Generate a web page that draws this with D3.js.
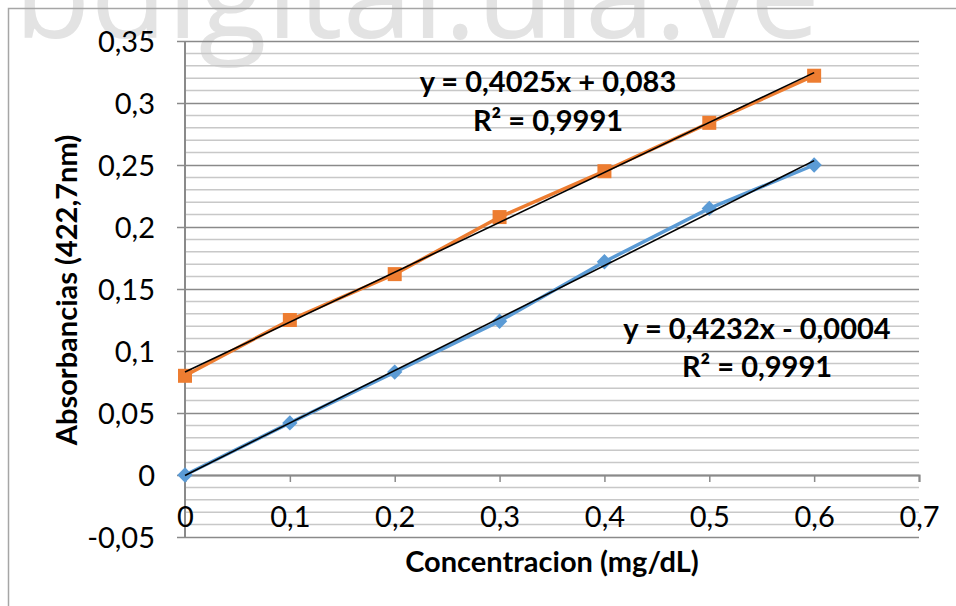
<!DOCTYPE html>
<html>
<head>
<meta charset="utf-8">
<script src="https://cdn.jsdelivr.net/npm/d3@7"></script>
<style>
  html, body { margin: 0; padding: 0; background: #ffffff; }
  svg { display: block; }
  text { font-family: Lato, "Open Sans", sans-serif; }
</style>
</head>
<body>
<svg id="chart" width="956" height="606"></svg>
<script>
// Calibration data: concentration (mg/dL) vs absorbance at 422.7 nm
const concentrations = [0, 0.1, 0.2, 0.3, 0.4, 0.5, 0.6];
const seriesBlue = [0, 0.042, 0.083, 0.124, 0.172, 0.215, 0.250];
const seriesOrange = [0.080, 0.125, 0.162, 0.208, 0.245, 0.284, 0.322];

// Linear fits (slope, intercept) shown on the chart
const fitBlue = { slope: 0.4232, intercept: -0.0004, eq: "y = 0,4232x - 0,0004", r2: "R² = 0,9991" };
const fitOrange = { slope: 0.4025, intercept: 0.083, eq: "y = 0,4025x + 0,083", r2: "R² = 0,9991" };

const xTicks = [0, 0.1, 0.2, 0.3, 0.4, 0.5, 0.6, 0.7];
const yTicks = [-0.05, 0, 0.05, 0.1, 0.15, 0.2, 0.25, 0.3, 0.35];
const yMinorStep = 0.01;

const fmt = v => String(+v.toFixed(2)).replace(".", ",");
const FS = "29px";

const svg = d3.select("#chart");

// Watermark
svg.append("text")
  .attr("x", 14).attr("y", 38)
  .attr("textLength", 806)
  .attr("lengthAdjust", "spacingAndGlyphs")
  .style("font-family", "'Open Sans', sans-serif")
  .style("font-size", "126px")
  .style("fill", "#e3e3e3")
  .text("bdigital.ula.ve");

// Outer chart border
svg.append("path")
  .attr("d", "M8.5,606 V8.5 H956")
  .attr("fill", "none")
  .attr("stroke", "#a6a6a6")
  .attr("stroke-width", 1.5);

const x = d3.scaleLinear().domain([0, 0.7]).range([185, 919]);
const y = d3.scaleLinear().domain([-0.05, 0.35]).range([537, 41]);

// Minor gridlines
const minor = d3.range(-0.05, 0.3501, yMinorStep).map(v => +v.toFixed(2))
  .filter(v => Math.abs(Math.round(v * 100) % 5) !== 0);
svg.append("g").selectAll("line").data(minor).join("line")
  .attr("x1", x(0)).attr("x2", x(0.7))
  .attr("y1", d => y(d)).attr("y2", d => y(d))
  .attr("stroke", "#c8c8c8").attr("stroke-width", 1.5);

// Major gridlines with y axis ticks
const yAxis = d3.axisLeft(y).tickValues(yTicks).tickFormat(fmt)
  .tickSize(-(x(0.7) - x(0))).tickPadding(30);
const gy = svg.append("g").attr("transform", `translate(${x(0)},0)`).call(yAxis);
gy.select(".domain").remove();
gy.selectAll(".tick line").attr("stroke", "#8a8a8a").attr("stroke-width", 1.5)
  .attr("x1", -8);
gy.selectAll(".tick text")
  .attr("dy", "0.36em")
  .style("font-size", FS).style("fill", "#000");

// Y axis line
svg.append("line")
  .attr("x1", x(0)).attr("x2", x(0))
  .attr("y1", y(0.35)).attr("y2", y(-0.05))
  .attr("stroke", "#8a8a8a").attr("stroke-width", 2);

// X axis at y = 0
const xAxis = d3.axisBottom(x).tickValues(xTicks).tickFormat(fmt).tickSize(7);
const gx = svg.append("g").attr("transform", `translate(0,${y(0)})`).call(xAxis);
gx.select(".domain").attr("stroke", "#8a8a8a").attr("stroke-width", 2);
gx.selectAll(".tick line").attr("stroke", "#8a8a8a").attr("stroke-width", 1.5);
gx.selectAll(".tick text")
  .attr("y", 52).attr("dy", null)
  .style("font-size", FS).style("fill", "#000");

// Series lines
const line = d3.line().x((d, i) => x(concentrations[i])).y(d => y(d));
svg.append("path").datum(seriesOrange).attr("d", line)
  .attr("fill", "none").attr("stroke", "#ED7D31").attr("stroke-width", 3.5);
svg.append("path").datum(seriesBlue).attr("d", line)
  .attr("fill", "none").attr("stroke", "#5B9BD5").attr("stroke-width", 3.5);

// Markers
svg.append("g").selectAll("rect").data(seriesOrange).join("rect")
  .attr("x", (d, i) => x(concentrations[i]) - 7)
  .attr("y", d => y(d) - 7)
  .attr("width", 14).attr("height", 14)
  .attr("fill", "#ED7D31");
const diamond = d3.symbol().type(d3.symbolDiamond2).size(150);
svg.append("g").selectAll("path").data(seriesBlue).join("path")
  .attr("transform", (d, i) => `translate(${x(concentrations[i])},${y(d)})`)
  .attr("d", diamond)
  .attr("fill", "#5B9BD5");

// Trend lines
[fitOrange, fitBlue].forEach(f => {
  svg.append("line")
    .attr("x1", x(0)).attr("y1", y(f.intercept))
    .attr("x2", x(0.6)).attr("y2", y(f.slope * 0.6 + f.intercept))
    .attr("stroke", "#000").attr("stroke-width", 1.6);
});

// Fit labels
function fitLabel(f, cx, cy, cy2) {
  const g = svg.append("g").style("font-size", FS).style("font-weight", "bold")
    .attr("text-anchor", "middle");
  g.append("text").attr("x", cx).attr("y", cy).text(f.eq);
  g.append("text").attr("x", cx).attr("y", cy2).text(f.r2);
}
fitLabel(fitOrange, 548, 92, 131);
fitLabel(fitBlue, 757, 339, 377);

// Axis titles
svg.append("text")
  .attr("transform", "translate(77,290) rotate(-90)")
  .attr("text-anchor", "middle")
  .style("font-size", FS).style("font-weight", "bold")
  .text("Absorbancias (422,7nm)");
svg.append("text")
  .attr("x", 552).attr("y", 572)
  .attr("text-anchor", "middle")
  .style("font-size", FS).style("font-weight", "bold")
  .text("Concentracion (mg/dL)");
</script>
</body>
</html>
